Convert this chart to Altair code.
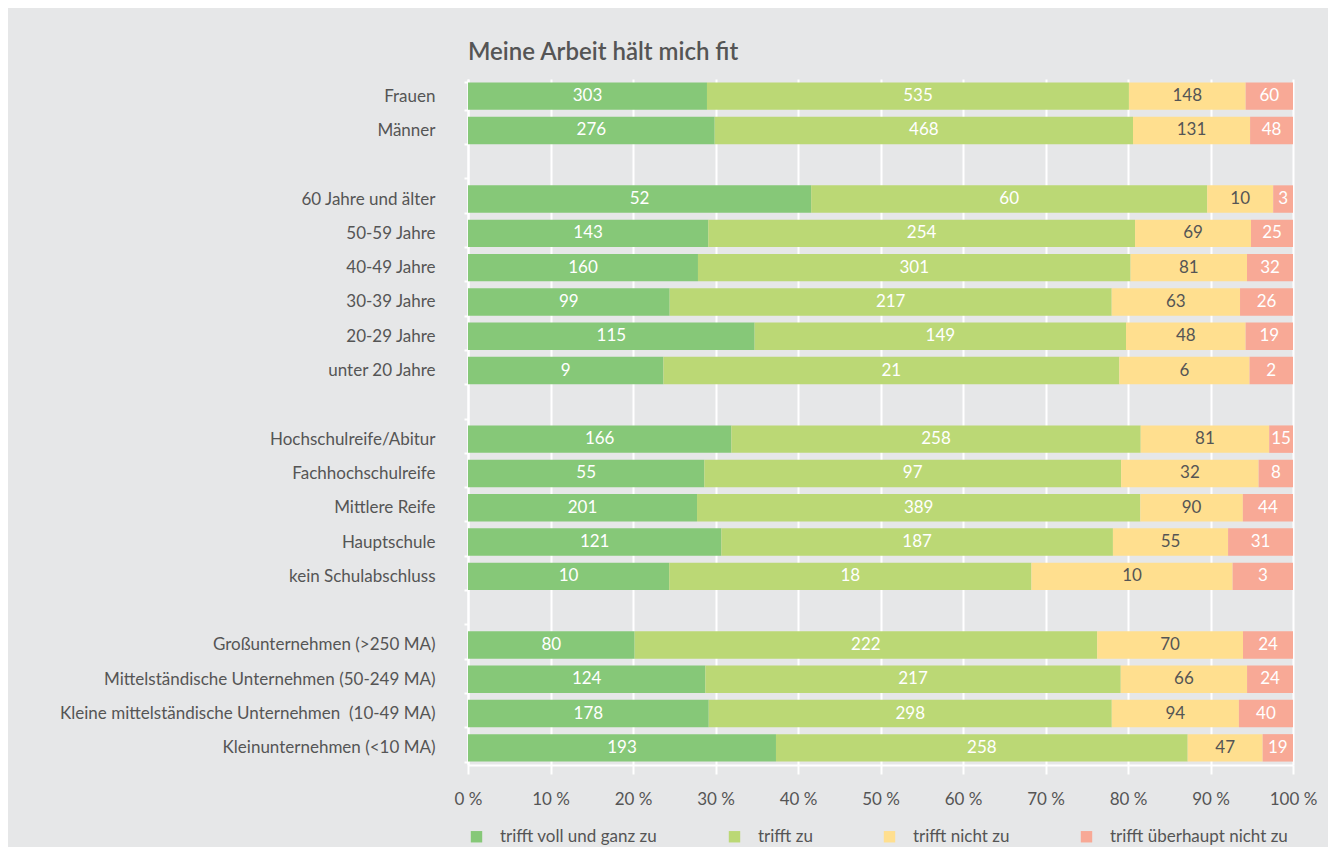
import altair as alt
import pandas as pd

categories = [
    "Frauen", "Männer", " ",
    "60 Jahre und älter", "50-59 Jahre", "40-49 Jahre", "30-39 Jahre", "20-29 Jahre", "unter 20 Jahre", "  ",
    "Hochschulreife/Abitur", "Fachhochschulreife", "Mittlere Reife", "Hauptschule", "kein Schulabschluss", "   ",
    "Großunternehmen (>250 MA)", "Mittelständische Unternehmen (50-249 MA)",
    "Kleine mittelständische Unternehmen \u00a0(10-49 MA)", "Kleinunternehmen (<10 MA)",
]
series = ["trifft voll und ganz zu", "trifft zu", "trifft nicht zu", "trifft überhaupt nicht zu"]
colors = ["#86c878", "#bbd875", "#ffdf8f", "#f8a996"]

voll = [303, 276, None, 52, 143, 160, 99, 115, 9, None, 166, 55, 201, 121, 10, None, 80, 124, 178, 193]
zu = [535, 468, None, 60, 254, 301, 217, 149, 21, None, 258, 97, 389, 187, 18, None, 222, 217, 298, 258]
nicht = [148, 131, None, 10, 69, 81, 63, 48, 6, None, 81, 32, 90, 55, 10, None, 70, 66, 94, 47]
ueberhaupt = [60, 48, None, 3, 25, 32, 26, 19, 2, None, 15, 8, 44, 31, 3, None, 24, 24, 40, 19]

rows = []
for i, cat in enumerate(categories):
    for k, vals in enumerate([voll, zu, nicht, ueberhaupt]):
        v = vals[i]
        if v is None:
            continue
        rows.append({"cat": cat, "series": series[k], "order": k, "value": v})
df = pd.DataFrame(rows)

FONT = "Lato"
GREY = "#555555"
FS = 17

base = alt.Chart(df).transform_stack(
    stack="value", groupby=["cat"], as_=["start", "end"], offset="normalize",
    sort=[alt.SortField("order", order="ascending")],
).transform_calculate(mid="(datum.start + datum.end) / 2")

yenc = alt.Y(
    "cat:N",
    scale=alt.Scale(domain=categories, paddingInner=0.2, paddingOuter=0.1),
    axis=alt.Axis(
        title=None, labelFontSize=FS, labelColor=GREY, labelFont=FONT, labelPadding=29,
        domainColor="white", domainWidth=2, tickColor="white", tickWidth=2, tickSize=4,
        tickBand="extent", labelLimit=600,
    ),
)

bars = base.mark_bar().encode(
    x=alt.X(
        "start:Q",
        scale=alt.Scale(domain=[0, 1], nice=False),
        axis=alt.Axis(
            title=None, values=[i / 10 for i in range(11)],
            labelExpr="round(datum.value * 100) + ' %'",
            labelFontSize=FS, labelColor=GREY, labelFont=FONT, labelPadding=17,
            labelFlush=False, labelOverlap=False,
            grid=True, gridColor="white", gridWidth=2,
            domainColor="white", domainWidth=2, tickColor="white", tickWidth=2, tickSize=9,
        ),
    ),
    x2="end:Q",
    y=yenc,
    color=alt.Color(
        "series:N",
        scale=alt.Scale(domain=series, range=colors),
        legend=alt.Legend(
            title=None, orient="none", direction="horizontal", legendX=0, legendY=749,
            symbolType="square", symbolSize=130, symbolStrokeWidth=0, symbolOpacity=1,
            labelFontSize=FS, labelColor=GREY, labelFont=FONT, labelOffset=15,
            columnPadding=68, labelLimit=400,
        ),
    ),
    order=alt.Order("order:Q"),
)

texts = base.mark_text(fontSize=FS, font=FONT, baseline="middle", align="center").encode(
    x="mid:Q",
    y=alt.Y("cat:N", scale=alt.Scale(domain=categories)),
    text="value:Q",
    color=alt.condition(alt.datum.series == "trifft nicht zu", alt.value(GREY), alt.value("white")),
)

chart = alt.layer(bars, texts).properties(
    width=825, height=686,
    title=alt.TitleParams(
        "Meine Arbeit hält mich fit", anchor="start", frame="group", fontSize=24, font=FONT,
        color=GREY, fontWeight=600, offset=5,
    ),
    background="#e6e7e8",
    autosize=alt.AutoSizeParams(type="none"),
    padding={"left": 460, "top": 71, "right": 35, "bottom": 82},
).configure_view(stroke=None)

chart.save("out.html", embed_options={"renderer": "svg", "actions": False})
